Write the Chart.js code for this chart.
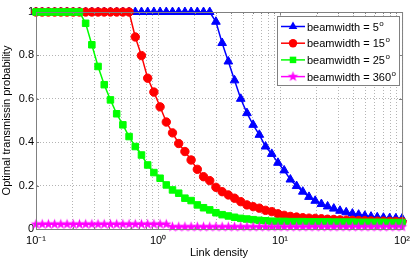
<!DOCTYPE html>
<html>
<head>
<meta charset="utf-8">
<script src="https://cdn.jsdelivr.net/npm/chart.js@4.4.0/dist/chart.umd.min.js"></script>
<style>
  html, body { margin: 0; padding: 0; background: #fff; }
  #myChart { display: block; }
</style>
</head>
<body>
<canvas id="myChart" width="415" height="259"></canvas>
<script>
// link density (x), 60 log-spaced samples from 0.1 to 100
const densities = [
  0.1, 0.1124, 0.1264, 0.1421, 0.1597, 0.1796, 0.2019, 0.227, 0.2551, 0.2868,
  0.3225, 0.3625, 0.4075, 0.4582, 0.5151, 0.5791, 0.651, 0.7318, 0.8227, 0.9249,
  1.0398, 1.169, 1.3142, 1.4774, 1.661, 1.8673, 2.0992, 2.36, 2.6531, 2.9827,
  3.3531, 3.7697, 4.2379, 4.7643, 5.3561, 6.0214, 6.7693, 7.6101, 8.5553, 9.6175,
  10.812, 12.155, 13.665, 15.362, 17.27, 19.415, 21.827, 24.538, 27.585, 31.011,
  34.863, 39.193, 44.062, 49.534, 55.686, 62.603, 70.378, 79.119, 88.945, 100
];

const bw5 = [
  1, 1, 1, 1, 1, 1, 1, 1, 1, 1, 1, 1, 1, 1, 1, 1, 1, 1, 1, 1,
  1, 1, 1, 1, 1, 1, 1, 1, 1, 0.955, 0.857, 0.772, 0.685, 0.6, 0.534, 0.48, 0.434, 0.38, 0.346, 0.305,
  0.27, 0.228, 0.198, 0.172, 0.148, 0.13, 0.115, 0.104, 0.094, 0.084, 0.077, 0.071, 0.066, 0.061, 0.057, 0.054, 0.052, 0.05, 0.049, 0.048
];
const bw15 = [
  1, 1, 1, 1, 1, 1, 1, 1, 1, 1, 1, 1, 1, 1, 1, 1, 0.885, 0.799, 0.695, 0.631,
  0.563, 0.493, 0.443, 0.394, 0.357, 0.318, 0.275, 0.241, 0.223, 0.192, 0.172, 0.157, 0.142, 0.126, 0.111, 0.103, 0.096, 0.086, 0.08, 0.07,
  0.063, 0.058, 0.055, 0.052, 0.05, 0.049, 0.047, 0.045, 0.044, 0.042, 0.041, 0.04, 0.039, 0.038, 0.037, 0.036, 0.036, 0.035, 0.035, 0.034
];
const bw25 = [
  1, 1, 1, 1, 1, 1, 1, 1, 0.948, 0.849, 0.749, 0.665, 0.595, 0.531, 0.48, 0.426, 0.38, 0.341, 0.295, 0.26,
  0.234, 0.203, 0.18, 0.165, 0.142, 0.131, 0.111, 0.098, 0.088, 0.075, 0.066, 0.06, 0.054, 0.049, 0.046, 0.043, 0.04, 0.038, 0.036, 0.035,
  0.035, 0.034, 0.034, 0.034, 0.033, 0.033, 0.033, 0.033, 0.032, 0.032, 0.032, 0.032, 0.031, 0.031, 0.031, 0.031, 0.031, 0.03, 0.03, 0.03
];
const bw360 = [
  0.022, 0.022, 0.022, 0.022, 0.022, 0.022, 0.022, 0.022, 0.022, 0.022, 0.022, 0.022, 0.022, 0.022, 0.022, 0.022, 0.022, 0.022, 0.022, 0.022,
  0.022, 0.022, 0.01, 0.01, 0.01, 0.01, 0.01, 0.01, 0.01, 0.01, 0.01, 0.01, 0.01, 0.01, 0.01, 0.01, 0.01, 0.01, 0.01, 0.01,
  0.01, 0.01, 0.01, 0.01, 0.01, 0.01, 0.01, 0.01, 0.01, 0.01, 0.01, 0.01, 0.01, 0.01, 0.01, 0.01, 0.01, 0.01, 0.01, 0.01
];

const seriesNames = ["beamwidth = 5", "beamwidth = 15", "beamwidth = 25", "beamwidth = 360"];
const yTicks = [0, 0.2, 0.4, 0.6, 0.8, 1];
const xMajor = [0.1, 1, 10, 100];
const xMajorLabels = ["10\u207B\u00B9", "10\u2070", "10\u00B9", "10\u00B2"];
const xDecades = [0.1, 1, 10];
const xSteps = [1, 2, 3, 4, 5, 6, 7, 8, 9];

const FONT = "'Liberation Sans', Arial, sans-serif";

// filled five point star marker
function starMarker(color, r) {
  let c = document.createElement("canvas");
  let s = Math.ceil(r * 2) + 2;
  c.width = s; c.height = s;
  let g = c.getContext("2d");
  g.fillStyle = color;
  g.beginPath();
  for (let k = 0; k < 10; k++) {
    let rad = k % 2 === 0 ? r : r * 0.42;
    let a = -Math.PI / 2 + k * Math.PI / 5;
    let px = s / 2 + rad * Math.cos(a), py = s / 2 + rad * Math.sin(a);
    if (k === 0) g.moveTo(px, py); else g.lineTo(px, py);
  }
  g.closePath();
  g.fill();
  return c;
}
const star = starMarker("#ff00ff", 5.5);

function pts(vals) {
  return densities.map((d, i) => ({ x: d, y: vals[i] }));
}

function series(label, vals, color, style, radius, order) {
  return {
    label: label,
    data: pts(vals),
    borderColor: color,
    backgroundColor: color,
    pointBackgroundColor: color,
    pointBorderColor: color,
    pointBorderWidth: 1,
    pointStyle: style,
    pointRadius: radius,
    borderWidth: 1.5,
    tension: 0,
    clip: false,
    order: order,
  };
}

// MATLAB like box, inward ticks and in-axes legend
const boxPlugin = {
  id: "boxPlugin",
  afterDatasetsDraw(chart) {
    let ctx = chart.ctx;
    let a = chart.chartArea;
    let xs = chart.scales.x, ys = chart.scales.y;
    ctx.save();
    ctx.strokeStyle = "#808080";
    ctx.lineWidth = 1;
    ctx.strokeRect(a.left + 0.5, a.top + 0.5, a.right - a.left, a.bottom - a.top);
    ctx.beginPath();
    yTicks.forEach(v => {
      let py = Math.round(ys.getPixelForValue(v)) + 0.5;
      ctx.moveTo(a.left, py); ctx.lineTo(a.left + 3, py);
      ctx.moveTo(a.right, py); ctx.lineTo(a.right - 3, py);
    });
    xDecades.forEach(d => xSteps.forEach(s => {
      let px = Math.round(xs.getPixelForValue(d * s)) + 0.5;
      let len = s === 1 ? 3 : 2;
      ctx.moveTo(px, a.bottom); ctx.lineTo(px, a.bottom - len);
      ctx.moveTo(px, a.top); ctx.lineTo(px, a.top + len);
    }));
    ctx.stroke();

    // legend box
    let lx = 277, ly = 16, lw = 122, lh = 69;
    ctx.fillStyle = "#fff";
    ctx.fillRect(lx, ly, lw, lh);
    ctx.strokeStyle = "#808080";
    ctx.strokeRect(lx + 0.5, ly + 0.5, lw, lh);
    chart.data.datasets.forEach((ds, i) => {
      let cy = ly + 10.5 + i * 16.7;
      let mx = lx + 16;
      ctx.strokeStyle = ds.borderColor;
      ctx.lineWidth = 1.5;
      ctx.beginPath();
      ctx.moveTo(lx + 4, cy); ctx.lineTo(lx + 28, cy);
      ctx.stroke();
      if (ds.pointStyle instanceof HTMLCanvasElement) {
        ctx.drawImage(ds.pointStyle, mx - ds.pointStyle.width / 2, cy - ds.pointStyle.height / 2);
      } else {
        ctx.fillStyle = ds.backgroundColor;
        ctx.beginPath();
        let r = ds.pointRadius;
        if (ds.pointStyle === "triangle") {
          ctx.moveTo(mx, cy - r);
          ctx.lineTo(mx + r * 0.866, cy + r * 0.5);
          ctx.lineTo(mx - r * 0.866, cy + r * 0.5);
        } else if (ds.pointStyle === "circle") {
          ctx.arc(mx, cy, r, 0, Math.PI * 2);
        } else {
          let h = r * Math.SQRT1_2;
          ctx.rect(mx - h, cy - h, 2 * h, 2 * h);
        }
        ctx.closePath();
        ctx.fill();
      }
      ctx.fillStyle = "#000";
      ctx.font = "11px " + FONT;
      ctx.textBaseline = "middle";
      ctx.textAlign = "left";
      ctx.fillText(ds.label, lx + 30, cy + 1);
      let w = ctx.measureText(ds.label).width;
      ctx.font = "8px " + FONT;
      ctx.fillText("o", lx + 30 + w + 0.5, cy - 3);
    });
    ctx.restore();
  }
};

let ctx = document.getElementById("myChart").getContext("2d");
let myChart = new Chart(ctx, {
  type: "line",
  data: {
    datasets: [
      series(seriesNames[0], bw5, "#0000ff", "triangle", 5, 4),
      series(seriesNames[1], bw15, "#ff0000", "circle", 4.2, 3),
      series(seriesNames[2], bw25, "#00ff00", "rect", 4.6, 2),
      series(seriesNames[3], bw360, "#ff00ff", star, 5.5, 1),
    ],
  },
  options: {
    responsive: false,
    animation: false,
    layout: { padding: { top: 12, right: 10, left: 0, bottom: 0 } },
    plugins: {
      legend: { display: false },
      tooltip: { enabled: false },
    },
    scales: {
      x: {
        type: "logarithmic",
        min: 0.1,
        max: 100,
        afterBuildTicks: (scale) => {
          let t = [];
          xDecades.forEach(d => xSteps.forEach(s => t.push({ value: +(d * s).toPrecision(3) })));
          t.push({ value: 100 });
          scale.ticks = t;
        },
        afterFit: (scale) => { scale.height = 30; },
        ticks: {
          autoSkip: false,
          maxRotation: 0,
          padding: 5,
          color: "#000",
          font: { family: FONT, size: 11 },
          callback: (v) => {
            let k = xMajor.findIndex(m => Math.abs(m - v) < 1e-9);
            return k >= 0 ? xMajorLabels[k] : "";
          },
        },
        grid: { color: "#b4b4b4", drawTicks: false, lineWidth: 1 },
        border: { display: true, color: "#808080", dash: [1, 2] },
        title: {
          display: true,
          text: "Link density",
          color: "#000",
          font: { family: FONT, size: 11 },
          padding: { top: 0, bottom: -1 },
        },
      },
      y: {
        min: 0,
        max: 1,
        afterBuildTicks: (scale) => { scale.ticks = yTicks.map(v => ({ value: v })); },
        afterFit: (scale) => { scale.width = 36; },
        ticks: {
          padding: 2,
          color: "#000",
          font: { family: FONT, size: 11 },
          callback: (v) => String(+v.toFixed(1)),
        },
        grid: { color: "#b4b4b4", drawTicks: false, lineWidth: 1 },
        border: { display: true, color: "#808080", dash: [1, 2] },
        title: {
          display: true,
          text: "Optimal transmissin probability",
          color: "#000",
          font: { family: FONT, size: 11 },
          padding: { top: 0, bottom: 0 },
        },
      },
    },
  },
  plugins: [boxPlugin],
});
</script>
</body>
</html>
